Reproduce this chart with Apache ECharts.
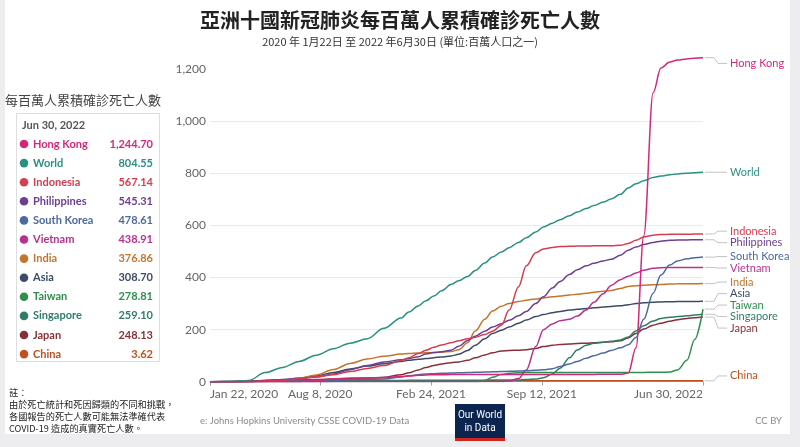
<!DOCTYPE html>
<html>
<head>
<meta charset="utf-8">
<script src="https://cdn.jsdelivr.net/npm/echarts@6/dist/echarts.min.js"></script>
<style>
html,body{margin:0;padding:0;background:#ededf0;}
#c{width:800px;height:447px;}
</style>
</head>
<body>
<div id="c"></div>
<script>
// ---------------- data ----------------
const dates = ['2020-01-22','2020-03-01','2020-04-01','2020-05-01','2020-06-01','2020-07-01','2020-08-01','2020-09-01','2020-10-01','2020-11-01','2020-12-01',
'2021-01-01','2021-01-15','2021-02-01','2021-02-15','2021-03-01','2021-03-15','2021-04-01','2021-04-15','2021-05-01','2021-05-15','2021-06-01','2021-06-15',
'2021-07-01','2021-07-15','2021-08-01','2021-08-15','2021-09-01','2021-09-15','2021-10-01','2021-10-15','2021-11-01','2021-11-15','2021-12-01','2021-12-15',
'2022-01-01','2022-01-15','2022-02-01','2022-02-15','2022-03-01','2022-03-15','2022-04-01','2022-04-15','2022-05-01','2022-05-15','2022-06-01','2022-06-15','2022-06-30'];

const seriesNames = ['Hong Kong','World','Indonesia','Philippines','South Korea','Vietnam','India','Asia','Taiwan','Singapore','Japan','China'];
const seriesColors = ['#D2287A','#2A9080','#D73C50','#6D3E91','#4C6A9C','#B8318F','#C4752B','#3C4B66','#2E8F4F','#2F7D68','#883039','#C0501E'];

const hongKong = [0,0,0.3,0.5,0.5,1,3.5,11,14,14.3,15.5,
  20,22,24.5,26,26.7,27,27.2,27.3,27.5,27.6,27.7,27.8,
  28,28,28,28,28,28,28,28,28,28,28.1,28.1,
  28.2,28.2,28.4,33,130,560,1110,1205,1228,1236,1240,1243,1244.70];
const world = [0,0.4,5,35,55,78,102,127,148,165,205,
  245,268,291,311,329,349,373,388,404,427,456,479,
  498,515,535,553,575,594,609,622,638,652,665,677,
  690,702,720,744,760,772,784,790,795,798,801,803,804.55];
const indonesia = [0,0,0.5,3,6,11.5,19,27,39,51,62,
  81,92,108,121,132,141,150,157,165,171,181,194,
  217,275,365,445,495,510,516,519,520,521,521.5,522,
  522,522.5,524,531,543,556,563,565.5,566.3,566.6,566.8,567,567.14];
const philippines = [0,0,0.8,5.5,8.5,11.5,18,30,46,62,76,
  84,89,96,106,112,115,121,136,158,175,194,210,
  223,236,253,270,300,326,360,385,412,430,445,455,
  464,470,486,505,517,527,535,540,543,544,544.8,545.1,545.31];
const southKorea = [0,0.3,3,4.8,5.3,5.4,5.8,6.2,8,9,10,
  18,23,27,29.5,31,32,33,34,35,36,37,38,
  39,40,41,42,44,46,50,58,68,78,90,100,
  110,120,130,142,170,240,340,410,448,464,472,476,478.61];
const vietnam = [0,0,0,0,0,0,0.1,0.3,0.4,0.4,0.4,
  0.4,0.4,0.4,0.4,0.4,0.4,0.4,0.4,0.4,0.4,0.5,0.6,
  0.8,3,12,45,135,200,222,234,240,252,275,305,
  338,370,392,405,418,428,436,438,438.5,438.7,438.8,438.9,438.91];
const india = [0,0,0.05,0.8,3.8,12,26,47,70,87,98,
  106,108,110,111,112,113.5,116,123,150,195,240,272,
  290,300,308,313,318,322,326,329,333,336,340,344,
  347,350,358,366,369,371,372,373,375.5,376,376.3,376.6,376.86];
const asia = [0,0.7,1.5,4,7.5,14,23,35,49,60,69,
  78,82,86,89,92,95,99,105,120,140,165,185,
  198,210,225,237,250,258,265,270,275,278,281,284,
  287,289,292,296,300,303,305,306.5,307.3,307.8,308.2,308.5,308.70];
const taiwan = [0,0,0.2,0.3,0.3,0.3,0.3,0.3,0.3,0.3,0.3,
  0.3,0.4,0.4,0.4,0.4,0.4,0.4,0.5,0.5,0.6,5,17,
  28,32,34,35,35.2,35.3,35.4,35.5,35.5,35.5,35.6,35.6,
  35.6,35.7,35.7,35.8,35.8,35.8,35.9,36.1,37,45,82,162,278.81];
const singapore = [0,0,0.5,2,4,4.6,4.6,4.6,4.8,5,5,
  5,5.1,5.2,5.3,5.5,5.5,5.5,5.6,5.6,5.7,6,6.3,
  6.5,6.6,7,8,10,15,30,52,92,122,140,148,
  152,155,160,172,195,215,233,243,248,250,253,256,259.10];
const japan = [0,0.1,0.5,3.4,7.2,7.8,8,10.5,12.5,14,17,
  27,34,45,55,62,68,73,76,82,92,103,111,
  118,120,121,123,128,135,140,143,145,147,148,150,
  152,153,157,168,185,202,217,225,232,238,243,246,248.13];
const china = [0.01,2.0,2.3,3.2,3.2,3.2,3.2,3.2,3.2,3.2,3.2,
  3.2,3.2,3.2,3.2,3.2,3.2,3.2,3.2,3.2,3.2,3.2,3.2,
  3.2,3.2,3.2,3.2,3.2,3.2,3.2,3.2,3.2,3.2,3.2,3.2,
  3.2,3.2,3.2,3.2,3.2,3.2,3.25,3.3,3.45,3.55,3.6,3.61,3.62];

const seriesValues = [hongKong, world, indonesia, philippines, southKorea, vietnam, india, asia, taiwan, singapore, japan, china];

const xTickDates = ['2020-01-22','2020-08-08','2021-02-24','2021-09-12','2022-06-30'];
const xTickLabels = ['Jan 22, 2020','Aug 8, 2020','Feb 24, 2021','Sep 12, 2021','Jun 30, 2022'];
const yTicks = [0,200,400,600,800,1000,1200];

const titleText = '亞洲十國新冠肺炎每百萬人累積確診死亡人數';
const subtitleText = '2020 年 1月22日 至 2022 年6月30日 (單位:百萬人口之一)';
const sideTitle = '每百萬人累積確診死亡人數';
const noteLines = ['註：','由於死亡統計和死因歸類的不同和挑戰，','各國報告的死亡人數可能無法準確代表','COVID-19 造成的真實死亡人數。'];
const sourceText = 'e: Johns Hopkins University CSSE COVID-19 Data';
const licenseText = 'CC BY';

// ---------------- chart ----------------
const DAY = 86400000;
const t0 = Date.parse(dates[0]);
const dayOf = d => Math.round((Date.parse(d) - t0) / DAY);
const xDays = dates.map(dayOf);
const xTickDays = xTickDates.map(dayOf);
const lastDay = xDays[xDays.length - 1];
const yMax = Math.max(...seriesValues.map(v => Math.max(...v)));

const FONT = 'Lato, "Noto Sans", sans-serif';
const CJK = '"Noto Sans CJK TC", "Noto Sans CJK SC", sans-serif';

const chart = echarts.init(document.getElementById('c'), null, {renderer: 'canvas'});

const option = {
  animation: false,
  backgroundColor: 'transparent',
  title: {
    text: titleText,
    subtext: subtitleText,
    left: 'center',
    top: 5,
    itemGap: 6,
    textStyle: {fontFamily: CJK, fontSize: 20, fontWeight: 'bold', color: '#222'},
    subtextStyle: {fontFamily: CJK, fontSize: 11, color: '#333'}
  },
  grid: {left: 210, right: 97, top: 57.7, bottom: 65.3},
  xAxis: {
    type: 'value', min: 0, max: lastDay,
    axisLine: {show: true, lineStyle: {color: '#a3a3a3'}},
    axisTick: {show: true, customValues: xTickDays, length: 4, lineStyle: {color: '#a3a3a3'}},
    axisLabel: {
      customValues: xTickDays,
      formatter: v => { const k = xTickDays.indexOf(v); return k >= 0 ? xTickLabels[k] : ''; },
      color: '#666', fontSize: 12, fontFamily: FONT, margin: 6,
      alignMinLabel: 'left', alignMaxLabel: 'right'
    },
    splitLine: {show: false}
  },
  yAxis: {
    type: 'value', min: 0, max: yMax,
    axisLine: {show: false},
    axisTick: {show: false, customValues: yTicks},
    axisLabel: {customValues: yTicks, formatter: v => v.toLocaleString('en-US'), color: '#666', fontSize: 12, fontFamily: FONT, margin: 4},
    splitLine: {show: true, showMaxLine: false, lineStyle: {color: '#e9e9e9'}}
  },
  series: seriesNames.map((name, i) => ({
    name, type: 'line',
    data: seriesValues[i].map((v, k) => [xDays[k], v]),
    showSymbol: false, smooth: 0.35, smoothMonotone: 'x',
    lineStyle: {width: 1.5, color: seriesColors[i]},
    itemStyle: {color: seriesColors[i]},
    z: 2 + (seriesNames.length - i) * 0.01
  }))
};
chart.setOption(option);

// ---------- right side end labels with leader lines ----------
const yTop = chart.convertToPixel({gridIndex: 0}, [0, yMax])[1];
const yBot = chart.convertToPixel({gridIndex: 0}, [0, 0])[1];
const ends = seriesNames.map((name, i) => {
  const v = seriesValues[i];
  const p = chart.convertToPixel({gridIndex: 0}, [lastDay, v[v.length - 1]]);
  return {i, name, x: p[0], y: p[1]};
}).sort((a, b) => a.y - b.y);

const GAP = 11.5;
(function spread(items, gap, lo, hi) {
  let groups = items.map(it => ({members: [it]}));
  const place = g => {
    const n = g.members.length;
    const c = g.members.reduce((s, m) => s + m.y, 0) / n;
    let top = c - (n - 1) * gap / 2;
    top = Math.max(lo, Math.min(top, hi - (n - 1) * gap));
    g.top = top;
  };
  groups.forEach(place);
  let changed = true;
  while (changed) {
    changed = false;
    for (let k = 0; k < groups.length - 1; k++) {
      const a = groups[k], b = groups[k + 1];
      if (a.top + a.members.length * gap > b.top + 1e-6) {
        a.members = a.members.concat(b.members);
        groups.splice(k + 1, 1);
        place(a);
        changed = true;
        break;
      }
    }
  }
  groups.forEach(g => g.members.forEach((m, k) => { m.ly = g.top + k * gap; }));
})(ends, GAP, yTop + GAP / 2, yBot - GAP / 2);

const graphics = [];
// white card
graphics.push({type: 'rect', z: -10, shape: {x: 5, y: 0, width: 785, height: 434}, style: {fill: '#ffffff'}});

ends.forEach(e => {
  graphics.push({type: 'polyline', z: 1, shape: {points: [[e.x + 2, e.y], [e.x + 11, e.y], [e.x + 15, e.ly], [e.x + 24, e.ly]]},
    style: {stroke: '#c4c4c4', lineWidth: 1, fill: null}});
  graphics.push({type: 'text', z: 1, style: {text: e.name, x: e.x + 27, y: e.ly, fill: seriesColors[e.i], font: '11px ' + FONT, align: 'left', verticalAlign: 'middle'}});
});

// ---------- left side summary box ----------
graphics.push({type: 'text', style: {text: sideTitle, x: 5, y: 100, fill: '#444', font: '13px ' + CJK, align: 'left', verticalAlign: 'middle'}});
graphics.push({type: 'rect', shape: {x: 16.5, y: 113.5, width: 143, height: 248}, style: {fill: '#fff', stroke: '#dedede', lineWidth: 1}});
graphics.push({type: 'text', style: {text: xTickLabels[xTickLabels.length - 1], x: 22, y: 125.5, fill: '#555', font: 'bold 11px ' + FONT, align: 'left', verticalAlign: 'middle'}});
const order = seriesNames.map((n, i) => i).sort((a, b) => seriesValues[b][seriesValues[b].length - 1] - seriesValues[a][seriesValues[a].length - 1]);
order.forEach((si, k) => {
  const y = 144 + k * 19.1;
  const v = seriesValues[si][seriesValues[si].length - 1];
  graphics.push({type: 'circle', shape: {cx: 24, cy: y, r: 4.3}, style: {fill: seriesColors[si]}});
  graphics.push({type: 'text', style: {text: seriesNames[si], x: 33, y: y, fill: seriesColors[si], font: 'bold 11px ' + FONT, align: 'left', verticalAlign: 'middle'}});
  graphics.push({type: 'text', style: {text: v.toLocaleString('en-US', {minimumFractionDigits: 2, maximumFractionDigits: 2}), x: 153, y: y, fill: seriesColors[si], font: 'bold 11px ' + FONT, align: 'right', verticalAlign: 'middle'}});
});

// ---------- footer ----------
noteLines.forEach((t, k) => {
  graphics.push({type: 'text', style: {text: t, x: 9, y: 393 + k * 12, fill: '#222', font: '9.2px ' + CJK, align: 'left', verticalAlign: 'middle'}});
});
graphics.push({type: 'text', style: {text: sourceText, x: 200, y: 421, fill: '#8a8a8a', font: '9.5px ' + FONT, align: 'left', verticalAlign: 'middle'}});
graphics.push({type: 'text', style: {text: licenseText, x: 782, y: 421, fill: '#8a8a8a', font: '9.5px ' + FONT, align: 'right', verticalAlign: 'middle'}});
// OWID logo
graphics.push({type: 'rect', shape: {x: 455, y: 404, width: 50, height: 37}, style: {fill: '#0b2550'}});
graphics.push({type: 'rect', shape: {x: 455, y: 438, width: 50, height: 3}, style: {fill: '#ce261e'}});
graphics.push({type: 'text', style: {text: 'Our World', x: 480, y: 415, fill: '#fff', font: '10px "Liberation Sans Narrow", Roboto, sans-serif', align: 'center', verticalAlign: 'middle'}});
graphics.push({type: 'text', style: {text: 'in Data', x: 480, y: 428, fill: '#fff', font: '10px "Liberation Sans Narrow", Roboto, sans-serif', align: 'center', verticalAlign: 'middle'}});

chart.setOption({graphic: {elements: graphics}});
</script>
</body>
</html>
